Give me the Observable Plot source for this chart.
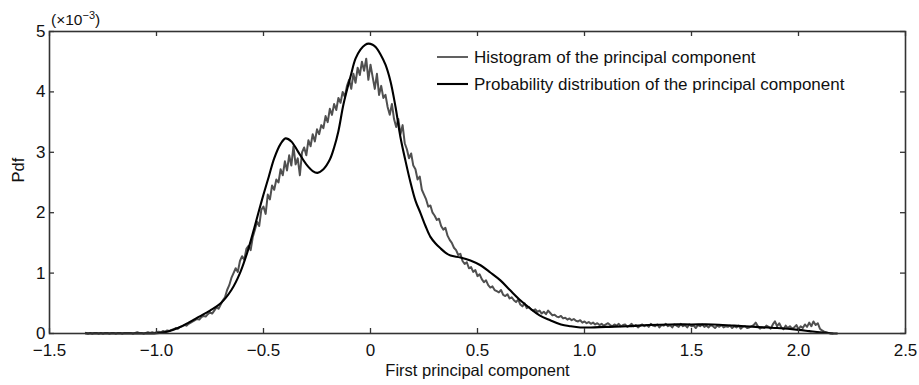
<!DOCTYPE html>
<html><head><meta charset="utf-8">
<script src="https://cdn.jsdelivr.net/npm/d3@7"></script>
<script src="https://cdn.jsdelivr.net/npm/@observablehq/plot@0.6"></script>
<style>body{margin:0;background:#fff}</style>
</head><body><div id="chart"></div>
<script>
// Histogram bins (values in units of 10^-3), bin centres start at histStart, spaced histStep
const histStart = -1.33;
const histStep = 0.01;
const histValues = [
  0.01,0.0,0.01,0.0,0.01,0.01,0.0,0.01,0.0,0.01,
  0.01,0.0,0.01,0.01,0.0,0.01,0.01,0.0,0.01,0.01,
  0.01,0.01,0.0,0.01,0.02,0.01,0.01,0.0,0.01,0.02,
  0.01,0.02,0.01,0.02,0.03,0.02,0.04,0.03,0.05,0.04,
  0.06,0.07,0.09,0.08,0.11,0.12,0.14,0.13,0.16,0.18,
  0.2,0.22,0.24,0.23,0.27,0.29,0.28,0.32,0.35,0.33,
  0.38,0.43,0.41,0.48,0.55,0.6,0.72,0.8,0.92,1.0,
  1.08,1.02,1.2,1.28,1.22,1.4,1.45,1.38,1.6,1.72,
  1.85,1.78,2.05,2.1,1.98,2.3,2.22,2.45,2.38,2.55,
  2.5,2.72,2.62,2.85,2.7,2.95,2.78,3.1,2.8,2.9,
  2.62,3.0,3.08,2.95,3.2,3.1,3.3,3.18,3.38,3.3,
  3.45,3.4,3.6,3.5,3.72,3.62,3.8,3.7,3.9,3.82,
  4.0,3.92,4.1,4.2,4.05,4.3,4.15,4.4,4.28,4.5,
  4.35,4.55,4.2,4.45,4.25,4.05,4.3,3.95,4.1,3.9,
  3.95,3.75,3.62,3.8,3.55,3.42,3.55,3.3,3.45,3.15,
  3.05,2.9,2.98,2.78,2.72,2.55,2.6,2.38,2.3,2.22,
  2.1,2.12,2.0,1.95,1.88,1.9,1.78,1.72,1.75,1.62,
  1.55,1.5,1.42,1.38,1.3,1.32,1.2,1.15,1.18,1.08,
  1.1,1.02,1.05,0.95,0.98,0.9,0.85,0.88,0.8,0.76,
  0.78,0.72,0.7,0.68,0.72,0.64,0.62,0.65,0.58,0.6,
  0.55,0.52,0.56,0.48,0.45,0.5,0.42,0.44,0.4,0.38,
  0.4,0.36,0.38,0.33,0.36,0.32,0.38,0.34,0.3,0.31,
  0.28,0.27,0.29,0.25,0.26,0.23,0.25,0.22,0.24,0.21,
  0.2,0.22,0.18,0.2,0.17,0.19,0.16,0.18,0.15,0.17,
  0.14,0.16,0.13,0.15,0.17,0.14,0.12,0.15,0.13,0.16,
  0.12,0.14,0.15,0.11,0.13,0.16,0.12,0.14,0.1,0.13,
  0.15,0.12,0.14,0.11,0.16,0.13,0.12,0.15,0.1,0.14,
  0.13,0.16,0.12,0.14,0.1,0.15,0.13,0.11,0.16,0.12,
  0.14,0.1,0.15,0.12,0.13,0.09,0.14,0.12,0.15,0.11,
  0.13,0.1,0.14,0.12,0.09,0.13,0.11,0.14,0.1,0.12,
  0.11,0.13,0.09,0.12,0.1,0.13,0.08,0.11,0.12,0.09,
  0.1,0.12,0.14,0.18,0.12,0.08,0.1,0.09,0.13,0.11,
  0.08,0.15,0.2,0.12,0.17,0.1,0.07,0.13,0.09,0.12,
  0.08,0.1,0.14,0.07,0.12,0.09,0.15,0.11,0.18,0.12,
  0.2,0.14,0.17,0.08,0.05,0.03,0.02,0.01,0.0,0.0
];

// Fitted probability distribution (units of 10^-3)
const pdfX = [-1.33,-1.2,-1.1,-1.0,-0.95,-0.9,-0.85,-0.8,-0.75,-0.7,-0.65,-0.61,-0.575,-0.545,-0.52,-0.5,-0.475,-0.45,-0.42,-0.397,-0.37,-0.34,-0.3,-0.27,-0.248,-0.22,-0.19,-0.17,-0.15,-0.126,-0.093,-0.07,-0.047,-0.025,-0.009,0.01,0.025,0.047,0.07,0.093,0.117,0.14,0.164,0.187,0.21,0.234,0.257,0.28,0.304,0.327,0.35,0.374,0.42,0.467,0.514,0.56,0.607,0.654,0.7,0.748,0.79,0.84,0.89,0.935,0.98,1.03,1.1,1.2,1.3,1.4,1.5,1.6,1.7,1.8,1.9,2.0,2.05,2.1,2.15,2.18];
const pdfY = [0,0,0,0.005,0.03,0.09,0.18,0.28,0.38,0.5,0.72,1.0,1.35,1.72,2.05,2.3,2.6,2.9,3.14,3.23,3.18,3.02,2.8,2.69,2.66,2.72,2.88,3.08,3.35,3.8,4.26,4.55,4.7,4.78,4.8,4.78,4.74,4.62,4.45,4.18,3.75,3.25,2.85,2.5,2.2,1.99,1.78,1.6,1.49,1.41,1.34,1.29,1.26,1.21,1.13,1.01,0.88,0.71,0.55,0.41,0.3,0.22,0.15,0.12,0.1,0.1,0.11,0.12,0.14,0.15,0.15,0.15,0.13,0.11,0.09,0.06,0.04,0.02,0.005,0];

const xTicks = [-1.5,-1.0,-0.5,0,0.5,1.0,1.5,2.0,2.5];
const yTicks = [0,1,2,3,4,5];
const xLabel = "First principal component";
const yLabel = "Pdf";
const legendLabels = ["Histogram of the principal component", "Probability distribution of the principal component"];
const histColor = "#505050";
const pdfColor = "#000000";

const hist = histValues.map((v, i) => ({x: +(histStart + i * histStep).toFixed(2), y: v}));
const pdf = pdfX.map((x, i) => ({x, y: pdfY[i]}));

const W = 919, H = 385, mL = 49, mR = 14, mT = 31, mB = 52;
const innerH = H - mT - mB, innerW = W - mL - mR;
const tick = 5;
const font = "'Liberation Sans', Arial, Helvetica, sans-serif";
const fmtX = d => d === 0 ? "0" : d3.format(".1f")(d);
const fmtY = d => String(d);

const plot = Plot.plot({
  width: W, height: H,
  marginLeft: mL, marginRight: mR, marginTop: mT, marginBottom: mB,
  style: {fontFamily: font, fontSize: "17px", color: "#111", background: "#fff"},
  x: {domain: [-1.5, 2.5]},
  y: {domain: [0, 5]},
  marks: [
    Plot.line(hist, {x: "x", y: "y", stroke: histColor, strokeWidth: 2}),
    Plot.line(pdf, {x: "x", y: "y", stroke: pdfColor, strokeWidth: 2.1, curve: "catmull-rom"}),
    Plot.tickX(xTicks, {x: d => d, insetTop: innerH - tick, stroke: "#333", strokeWidth: 1.3}),
    Plot.tickX(xTicks, {x: d => d, insetBottom: innerH - tick, stroke: "#333", strokeWidth: 1.3}),
    Plot.tickY(yTicks, {y: d => d, insetRight: innerW - tick, stroke: "#333", strokeWidth: 1.3}),
    Plot.tickY(yTicks, {y: d => d, insetLeft: innerW - tick, stroke: "#333", strokeWidth: 1.3}),
    Plot.frame({stroke: "#333", strokeWidth: 1.6}),
    Plot.axisX(xTicks, {tickSize: 0, tickPadding: 10, tickFormat: fmtX, label: null, fontSize: 17}),
    Plot.axisY(yTicks, {tickSize: 0, tickPadding: 4, tickFormat: fmtY, label: null, fontSize: 17}),
    Plot.text([xLabel], {frameAnchor: "bottom", dy: 42, text: d => d, fontSize: 16.5, fill: "#111"}),
    Plot.text([yLabel], {frameAnchor: "left", rotate: -90, dx: -31, text: d => d, fontSize: 16.5, fill: "#111"})
  ]
});

const svg = d3.select(plot);
// exponent note
const note = svg.append("text").attr("x", 51).attr("y", 25).attr("text-anchor", "start")
  .attr("font-family", font).attr("font-size", 15.5).attr("fill", "#111");
note.append("tspan").text("(×10");
note.append("tspan").attr("dy", -6).attr("font-size", 11).text("−3");
note.append("tspan").attr("dy", 6).text(")");

// legend
const lg = svg.append("g").attr("font-family", font).attr("font-size", 17).attr("text-anchor", "start");
const rows = [[legendLabels[0], histColor, 57, 1.8], [legendLabels[1], pdfColor, 84, 2.1]];
rows.forEach(([label, color, y, sw]) => {
  lg.append("line").attr("x1", 437).attr("x2", 468).attr("y1", y).attr("y2", y)
    .attr("stroke", color).attr("stroke-width", sw);
  lg.append("text").attr("x", 474).attr("y", y).attr("dy", "0.35em").attr("fill", "#111").text(label);
});

document.getElementById("chart").appendChild(plot);
</script>
</body></html>
